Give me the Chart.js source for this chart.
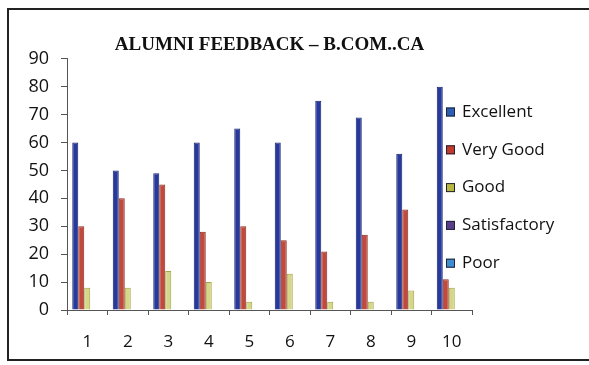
<!DOCTYPE html>
<html>
<head>
<meta charset="utf-8">
<script src="https://cdn.jsdelivr.net/npm/chart.js@4"></script>
<style>
  html, body { margin: 0; padding: 0; background: #fff; overflow: hidden; }
  #wrap { position: relative; width: 589px; height: 365px; }
  #frame {
    position: absolute; left: 7px; top: 8px; width: 600px; height: 349px;
    border: 2px solid #222; pointer-events: none;
  }
</style>
</head>
<body>
<div id="wrap">
  <canvas id="feedbackChart" width="589" height="365"></canvas>
  <div id="frame"></div>
</div>
<script>
const categories = ['1', '2', '3', '4', '5', '6', '7', '8', '9', '10'];
const seriesNames = ['Excellent', 'Very Good', 'Good', 'Satisfactory', 'Poor'];
const excellent = [60, 50, 49, 60, 65, 60, 75, 69, 56, 80];
const veryGood = [30, 40, 45, 28, 30, 25, 21, 27, 36, 11];
const good = [8, 8, 14, 10, 3, 13, 3, 3, 7, 8];
const satisfactory = [0, 0, 0, 0, 0, 0, 0, 0, 0, 0];
const poor = [0, 0, 0, 0, 0, 0, 0, 0, 0, 0];
const yTicks = [0, 10, 20, 30, 40, 50, 60, 70, 80, 90];

const fills = ['#27399c', '#c24a3c', '#d6d688', '#5a3d8a', '#3e8ed0'];
const edges = ['#18246e', '#8a2a20', '#a3a347', '#3a2566', '#2a6aa0'];
const keyColors = ['#2b5fb5', '#c0392b', '#b8b840', '#5a3d8a', '#3e8ed0'];

const makeSet = (i, data) => ({
    label: seriesNames[i],
    data,
    backgroundColor: fills[i],
    borderColor: edges[i],
    borderWidth: (ctx) => (ctx.raw ? 1 : 0),
    barPercentage: 1.0,
    categoryPercentage: 0.74
});

// legend drawn by hand: in the original it sits over the right end of the plot
const sideLegend = {
    id: 'sideLegend',
    afterDraw(chart) {
        const ctx = chart.ctx;
        ctx.save();
        ctx.font = '17px "Open Sans", sans-serif';
        ctx.textBaseline = 'middle';
        chart.data.datasets.forEach((ds, i) => {
            const y = 112 + i * 37.8;
            ctx.fillStyle = keyColors[i];
            ctx.fillRect(446, y - 4.5, 9, 9);
            ctx.strokeStyle = '#223';
            ctx.lineWidth = 1;
            ctx.strokeRect(446.5, y - 4, 8, 8);
            ctx.fillStyle = '#111';
            ctx.fillText(ds.label, 462, y);
        });
        ctx.restore();
    }
};

new Chart(document.getElementById('feedbackChart'), {
    type: 'bar',
    data: {
        labels: categories,
        datasets: [
            makeSet(0, excellent),
            makeSet(1, veryGood),
            makeSet(2, good),
            makeSet(3, satisfactory),
            makeSet(4, poor)
        ]
    },
    options: {
        responsive: false,
        animation: false,
        layout: { padding: { left: 20, right: 117, top: 0, bottom: 10 } },
        scales: {
            x: {
                grid: { display: true, drawOnChartArea: false, tickLength: 5, color: '#555', offset: true },
                border: { display: true, color: '#555', width: 1 },
                ticks: { color: '#111', padding: 17, font: { family: 'Open Sans', size: 17 } },
                afterFit: (scale) => { scale.height = 45; }
            },
            y: {
                min: 0,
                max: 90,
                afterBuildTicks: (scale) => { scale.ticks = yTicks.map((v) => ({ value: v })); },
                grid: { display: true, drawOnChartArea: false, tickLength: 6, color: '#555' },
                border: { display: true, color: '#555', width: 1 },
                ticks: { color: '#111', padding: 12, font: { family: 'Open Sans', size: 18 } },
                afterFit: (scale) => { scale.width = 47; }
            }
        },
        plugins: {
            legend: { display: false },
            tooltip: { enabled: false },
            title: {
                display: true,
                fullSize: false,
                text: 'ALUMNI FEEDBACK – B.COM..CA',
                color: '#111',
                font: { family: 'Liberation Serif', size: 19, weight: 'bold' },
                padding: { top: 34, bottom: 2 }
            }
        }
    },
    plugins: [sideLegend]
});
</script>
</body>
</html>
